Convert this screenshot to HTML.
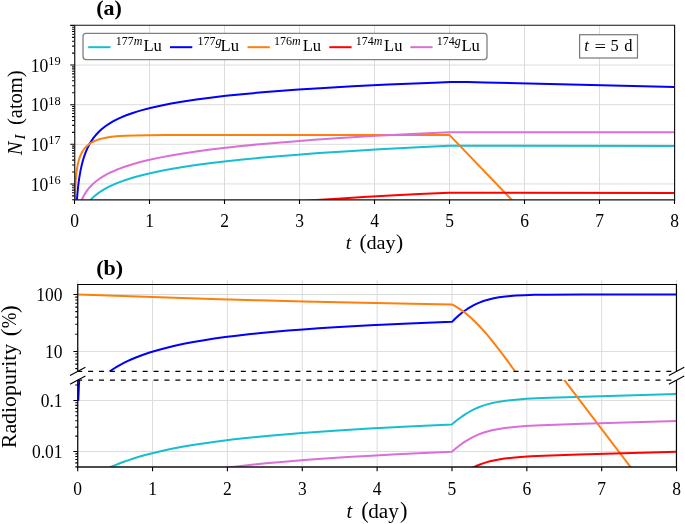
<!DOCTYPE html>
<html><head><meta charset="utf-8"><style>
html,body{margin:0;padding:0;background:#fff;}
body{width:685px;height:524px;overflow:hidden;}
svg{display:block;}
.l{will-change:transform;}
</style></head><body>
<div class="l"><svg width="685" height="524" viewBox="0 0 685 524">
<defs>
<clipPath id="ca"><rect x="74.50" y="25.50" width="600.00" height="174.20"/></clipPath>
<clipPath id="cu"><rect x="77.70" y="284.50" width="598.85" height="86.80"/></clipPath>
<clipPath id="cl"><rect x="77.70" y="380.10" width="598.85" height="86.80"/></clipPath>
</defs>
<rect width="685" height="524" fill="#fff"/>
<path d="M74.50 25.50V199.70M149.50 25.50V199.70M224.50 25.50V199.70M299.50 25.50V199.70M374.50 25.50V199.70M449.50 25.50V199.70M524.50 25.50V199.70M599.50 25.50V199.70M674.50 25.50V199.70M74.50 183.94H674.50M74.50 144.31H674.50M74.50 104.68H674.50M74.50 65.05H674.50M77.70 284.50V371.30M77.70 380.10V466.90M152.56 284.50V371.30M152.56 380.10V466.90M227.41 284.50V371.30M227.41 380.10V466.90M302.27 284.50V371.30M302.27 380.10V466.90M377.12 284.50V371.30M377.12 380.10V466.90M451.98 284.50V371.30M451.98 380.10V466.90M526.84 284.50V371.30M526.84 380.10V466.90M601.69 284.50V371.30M601.69 380.10V466.90M676.55 284.50V371.30M676.55 380.10V466.90M77.70 351.45H676.55M77.70 294.47H676.55M77.70 451.53H676.55M77.70 400.43H676.55" stroke="#dcdcdc" stroke-width="1" fill="none"/>
<path d="M74.50 421.72L75.10 256.40L75.70 244.47L76.30 237.49L76.90 232.54L77.50 228.70L78.10 225.56L79.30 220.61L80.51 216.77L81.71 213.63L82.91 210.98L84.71 207.64L86.51 204.84L88.31 202.44L90.12 200.33L92.52 197.87L94.92 195.72L97.92 193.36L100.93 191.28L104.53 189.08L108.13 187.13L111.74 185.38L114.74 184.05L118.34 182.58L125.55 179.96L133.36 177.52L141.77 175.22L151.38 172.93L161.59 170.79L172.40 168.78L184.41 166.79L197.62 164.84L211.44 163.02L226.45 161.24L242.67 159.50L260.09 157.81L278.70 156.18L297.92 154.64L318.94 153.10L348.37 151.16L379.61 149.32L413.24 147.53L449.27 145.81L674.50 146.02" fill="none" stroke="#17becf" stroke-width="2.00" stroke-linejoin="round" clip-path="url(#ca)"/>
<path d="M74.50 421.72L75.10 246.50L75.70 223.03L76.30 209.47L76.90 199.96L77.50 192.66L78.10 186.76L78.70 181.83L79.30 177.61L80.51 170.66L81.71 165.10L82.91 160.49L84.11 156.57L85.91 151.65L87.71 147.57L89.52 144.09L91.32 141.09L93.72 137.65L96.12 134.69L99.12 131.53L102.13 128.81L105.73 126.00L109.33 123.57L112.94 121.44L115.94 119.84L118.94 118.38L121.95 117.04L125.55 115.56L132.76 112.95L136.96 111.60L141.17 110.35L150.18 107.97L160.39 105.65L171.20 103.53L183.21 101.46L196.42 99.48L210.24 97.66L225.85 95.85L242.07 94.18L259.48 92.59L278.70 91.03L298.52 89.60L320.15 88.20L352.58 86.35L388.01 84.62L434.26 82.70L450.48 82.11L456.48 82.02L467.29 82.12L484.71 82.48L674.50 87.01" fill="none" stroke="#0000ff" stroke-width="2.00" stroke-linejoin="round" clip-path="url(#ca)"/>
<path d="M74.50 421.72L75.10 192.31L75.70 180.69L76.30 174.02L76.90 169.37L77.50 165.84L78.10 163.00L78.70 160.65L79.91 156.92L81.11 154.05L82.31 151.76L84.11 149.04L85.91 146.92L87.71 145.22L90.12 143.42L92.52 142.00L95.52 140.61L99.12 139.34L102.73 138.39L106.93 137.56L111.74 136.86L116.54 136.36L124.95 135.78L135.16 135.40L148.37 135.15L165.79 135.02L212.64 134.96L449.27 134.95L449.88 135.34L674.50 369.38" fill="none" stroke="#ff7f0e" stroke-width="2.00" stroke-linejoin="round" clip-path="url(#ca)"/>
<path d="M74.50 421.72L75.10 303.23L75.70 291.30L76.30 284.32L76.90 279.37L77.50 275.53L78.70 269.74L79.91 265.42L81.11 261.96L82.31 259.09L83.51 256.63L85.31 253.49L87.11 250.84L89.52 247.84L91.92 245.29L94.32 243.06L97.32 240.64L100.33 238.51L103.33 236.62L106.93 234.59L111.14 232.50L115.34 230.63L119.55 228.95L126.75 226.40L134.56 224.00L142.97 221.75L152.58 219.50L162.79 217.39L173.60 215.41L185.61 213.45L198.22 211.60L212.04 209.79L227.05 208.01L242.67 206.34L259.48 204.71L277.50 203.12L296.12 201.62L316.54 200.12L337.56 198.70L363.39 197.10L390.42 195.57L419.24 194.09L449.27 192.67L674.50 192.91" fill="none" stroke="#ff0000" stroke-width="2.00" stroke-linejoin="round" clip-path="url(#ca)"/>
<path d="M74.50 421.72L75.10 242.91L75.70 230.98L76.30 224.00L76.90 219.05L77.50 215.21L78.70 209.42L79.30 207.12L80.51 203.28L81.71 200.14L82.91 197.49L84.71 194.15L86.51 191.35L88.31 188.94L90.72 186.18L93.12 183.81L96.12 181.23L99.12 178.99L102.73 176.64L106.33 174.58L109.94 172.73L115.94 170.04L119.55 168.60L123.15 167.28L130.96 164.72L139.36 162.33L148.37 160.09L158.58 157.86L169.39 155.78L181.41 153.73L194.62 151.73L208.43 149.85L223.45 148.03L239.06 146.31L256.48 144.58L274.50 142.96L293.72 141.38L314.14 139.85L344.17 137.82L376.60 135.86L411.44 133.99L449.27 132.16L674.50 132.18" fill="none" stroke="#da70d6" stroke-width="2.00" stroke-linejoin="round" clip-path="url(#ca)"/>
<path d="M78.30 391.30L676.55 391.30" fill="none" stroke="#17becf" stroke-width="2.00" stroke-linejoin="round" clip-path="url(#cu)"/>
<path d="M78.30 484.20L84.89 480.16L90.89 476.74L97.48 473.23L104.08 470.00L110.67 467.03L117.26 464.31L123.86 461.81L131.05 459.32L138.24 457.06L146.04 454.83L154.43 452.67L162.82 450.71L171.81 448.80L180.81 447.08L191.00 445.30L201.19 443.69L211.98 442.14L222.77 440.72L234.16 439.34L246.15 438.01L258.73 436.72L272.52 435.43L301.89 432.98L334.26 430.68L369.63 428.51L408.60 426.45L451.76 424.45L452.36 424.11L455.95 421.06L459.55 418.24L462.55 416.08L465.54 414.08L468.54 412.25L471.54 410.59L474.54 409.09L478.13 407.50L481.73 406.11L485.33 404.91L488.92 403.87L492.52 402.99L496.72 402.12L500.91 401.39L505.71 400.71L510.50 400.15L518.30 399.44L526.69 398.87L536.88 398.34L549.47 397.81L583.64 396.69L676.55 393.92" fill="none" stroke="#17becf" stroke-width="2.00" stroke-linejoin="round" clip-path="url(#cl)"/>
<path d="M78.30 391.30L90.89 391.30L91.49 390.70L93.29 387.89L95.08 385.40L96.88 383.16L98.68 381.11L100.48 379.23L102.88 376.95L105.27 374.86L108.27 372.49L110.67 370.74L113.67 368.73L116.66 366.87L120.26 364.81L123.86 362.91L127.45 361.15L131.05 359.51L135.25 357.74L142.44 354.99L149.63 352.55L157.43 350.19L165.82 347.93L174.81 345.77L183.80 343.85L193.39 342.01L204.18 340.15L214.37 338.58L225.16 337.08L236.55 335.64L248.54 334.28L261.13 332.97L274.32 331.73L288.11 330.56L303.09 329.39L318.68 328.29L334.86 327.26L370.23 325.29L409.20 323.50L451.76 321.87L452.36 321.48L455.35 318.52L458.95 315.28L461.35 313.30L464.34 311.03L467.34 308.96L470.34 307.10L473.34 305.43L476.93 303.66L479.93 302.38L483.53 301.05L487.12 299.92L490.72 298.97L494.92 298.05L499.11 297.31L503.31 296.72L508.10 296.19L515.90 295.58L524.29 295.17L534.48 294.87L547.67 294.67L581.84 294.53L676.55 294.52" fill="none" stroke="#0000ff" stroke-width="2.00" stroke-linejoin="round" clip-path="url(#cu)"/>
<path d="M78.30 400.77L78.90 385.52L79.50 376.66L80.10 370.40L80.70 365.57L81.30 361.65L81.90 360.10L676.55 360.10" fill="none" stroke="#0000ff" stroke-width="2.00" stroke-linejoin="round" clip-path="url(#cl)"/>
<path d="M78.30 294.50L182.00 298.03L219.77 299.19L258.73 300.28L303.69 301.41L350.45 302.47L399.60 303.46L451.76 304.41L452.36 304.61L454.75 305.91L459.55 308.86L463.75 311.82L467.34 314.65L470.94 317.76L475.13 321.71L479.33 325.99L483.53 330.58L487.72 335.44L492.52 341.28L497.31 347.38L502.11 353.68L507.51 360.96L513.50 369.25L529.09 391.30L676.55 391.30" fill="none" stroke="#ff7f0e" stroke-width="2.00" stroke-linejoin="round" clip-path="url(#cu)"/>
<path d="M78.30 360.10L548.87 360.10L549.47 360.52L556.66 369.93L645.38 486.53L645.98 486.90L676.55 486.90" fill="none" stroke="#ff7f0e" stroke-width="2.00" stroke-linejoin="round" clip-path="url(#cl)"/>
<path d="M78.30 391.30L676.55 391.30" fill="none" stroke="#ff0000" stroke-width="2.00" stroke-linejoin="round" clip-path="url(#cu)"/>
<path d="M78.30 486.90L357.64 486.90L403.20 484.42L451.76 482.16L452.36 481.82L455.95 478.77L458.95 476.41L461.95 474.21L464.34 472.57L467.34 470.67L470.34 468.95L473.34 467.38L476.33 465.98L479.33 464.72L482.33 463.61L485.33 462.62L488.92 461.59L492.52 460.70L496.12 459.95L500.31 459.20L504.51 458.58L512.30 457.69L520.69 456.98L530.88 456.35L544.07 455.75L578.84 454.57L676.55 451.67" fill="none" stroke="#ff0000" stroke-width="2.00" stroke-linejoin="round" clip-path="url(#cl)"/>
<path d="M78.30 391.30L676.55 391.30" fill="none" stroke="#da70d6" stroke-width="2.00" stroke-linejoin="round" clip-path="url(#cu)"/>
<path d="M78.30 486.90L130.45 486.90L137.05 484.81L143.04 483.05L149.63 481.26L156.23 479.61L163.42 477.95L170.61 476.42L178.41 474.89L186.20 473.48L194.59 472.08L203.58 470.69L222.17 468.14L243.15 465.67L265.93 463.35L284.51 461.69L304.29 460.10L325.27 458.57L347.45 457.11L371.43 455.67L396.61 454.30L423.58 452.96L451.76 451.67L452.36 451.33L455.95 448.28L458.95 445.91L461.95 443.70L464.94 441.67L467.94 439.80L470.94 438.11L473.94 436.57L477.53 434.94L481.13 433.51L484.73 432.27L488.32 431.21L491.92 430.30L496.12 429.40L500.31 428.65L504.51 428.02L509.30 427.43L517.10 426.68L525.49 426.08L535.68 425.52L548.27 424.97L582.44 423.80L676.55 420.89" fill="none" stroke="#da70d6" stroke-width="2.00" stroke-linejoin="round" clip-path="url(#cl)"/>
<path d="M74.50 199.70v4.30M77.70 466.90v4.30M149.50 199.70v4.30M152.56 466.90v4.30M224.50 199.70v4.30M227.41 466.90v4.30M299.50 199.70v4.30M302.27 466.90v4.30M374.50 199.70v4.30M377.12 466.90v4.30M449.50 199.70v4.30M451.98 466.90v4.30M524.50 199.70v4.30M526.84 466.90v4.30M599.50 199.70v4.30M601.69 466.90v4.30M674.50 199.70v4.30M676.55 466.90v4.30M74.50 183.94h-4.30M74.50 144.31h-4.30M74.50 104.68h-4.30M74.50 65.05h-4.30M74.50 25.42h-4.30M74.50 199.71h-2.40M74.50 195.87h-2.40M74.50 192.73h-2.40M74.50 190.08h-2.40M74.50 187.78h-2.40M74.50 185.75h-2.40M74.50 172.01h-2.40M74.50 165.03h-2.40M74.50 160.08h-2.40M74.50 156.24h-2.40M74.50 153.10h-2.40M74.50 150.45h-2.40M74.50 148.15h-2.40M74.50 146.12h-2.40M74.50 132.38h-2.40M74.50 125.40h-2.40M74.50 120.45h-2.40M74.50 116.61h-2.40M74.50 113.47h-2.40M74.50 110.82h-2.40M74.50 108.52h-2.40M74.50 106.49h-2.40M74.50 92.75h-2.40M74.50 85.77h-2.40M74.50 80.82h-2.40M74.50 76.98h-2.40M74.50 73.84h-2.40M74.50 71.19h-2.40M74.50 68.89h-2.40M74.50 66.86h-2.40M74.50 53.12h-2.40M74.50 46.14h-2.40M74.50 41.19h-2.40M74.50 37.35h-2.40M74.50 34.21h-2.40M74.50 31.56h-2.40M74.50 29.26h-2.40M74.50 27.23h-2.40M77.70 351.45h-4.30M77.70 294.47h-4.30M77.70 368.60h-2.40M77.70 364.09h-2.40M77.70 360.28h-2.40M77.70 356.97h-2.40M77.70 354.06h-2.40M77.70 334.30h-2.40M77.70 324.26h-2.40M77.70 317.14h-2.40M77.70 311.62h-2.40M77.70 307.11h-2.40M77.70 303.30h-2.40M77.70 299.99h-2.40M77.70 297.08h-2.40M77.70 451.53h-4.30M77.70 400.43h-4.30M77.70 466.91h-2.40M77.70 462.87h-2.40M77.70 459.45h-2.40M77.70 456.48h-2.40M77.70 453.87h-2.40M77.70 436.15h-2.40M77.70 427.15h-2.40M77.70 420.76h-2.40M77.70 415.81h-2.40M77.70 411.77h-2.40M77.70 408.35h-2.40M77.70 405.38h-2.40M77.70 402.77h-2.40M77.70 385.05h-2.40" stroke="#000" stroke-width="1.1" fill="none"/>
<path d="M74.75 25.20H674.60V199.90H74.75Z" fill="none" stroke="#111" stroke-width="1.15" stroke-linejoin="miter"/>
<path d="M77.75 371.30V284.50H676.45V371.30" stroke="#000" stroke-width="1.20" fill="none" stroke-linejoin="miter"/>
<path d="M77.75 380.10V467.60M676.45 380.10V467.60" stroke="#000" stroke-width="1.20" fill="none"/>
<path d="M77.15 467.00H677.05" stroke="#111" stroke-width="1.35" fill="none"/>
<path d="M77.70 280.2V284M152.56 280.2V284M227.41 280.2V284M302.27 280.2V284M377.12 280.2V284M451.98 280.2V284M526.84 280.2V284M601.69 280.2V284M676.55 280.2V284" stroke="#dcdcdc" stroke-width="1" fill="none"/>
<path d="M77.70 371.30H676.55M77.70 380.10H676.55" stroke="#000" stroke-width="1.2" stroke-dasharray="5.0 5.91" stroke-dashoffset="-10.4" fill="none"/>
<path d="M70.00 375.40L85.40 367.20M70.00 384.20L85.40 376.00M668.85 375.40L684.25 367.20M668.85 384.20L684.25 376.00" stroke="#000" stroke-width="1.1" fill="none"/>
<g font-family='"Liberation Serif", serif' fill="#000">
<text transform="translate(74.60 226.50) scale(1 1.090)" font-size="17.50" text-anchor="middle" >0</text>
<text transform="translate(77.70 495.10) scale(1 1.090)" font-size="17.50" text-anchor="middle" >0</text>
<text transform="translate(149.60 226.50) scale(1 1.090)" font-size="17.50" text-anchor="middle" >1</text>
<text transform="translate(152.56 495.10) scale(1 1.090)" font-size="17.50" text-anchor="middle" >1</text>
<text transform="translate(224.60 226.50) scale(1 1.090)" font-size="17.50" text-anchor="middle" >2</text>
<text transform="translate(227.41 495.10) scale(1 1.090)" font-size="17.50" text-anchor="middle" >2</text>
<text transform="translate(299.60 226.50) scale(1 1.090)" font-size="17.50" text-anchor="middle" >3</text>
<text transform="translate(302.27 495.10) scale(1 1.090)" font-size="17.50" text-anchor="middle" >3</text>
<text transform="translate(374.60 226.50) scale(1 1.090)" font-size="17.50" text-anchor="middle" >4</text>
<text transform="translate(377.12 495.10) scale(1 1.090)" font-size="17.50" text-anchor="middle" >4</text>
<text transform="translate(449.60 226.50) scale(1 1.090)" font-size="17.50" text-anchor="middle" >5</text>
<text transform="translate(451.98 495.10) scale(1 1.090)" font-size="17.50" text-anchor="middle" >5</text>
<text transform="translate(524.60 226.50) scale(1 1.090)" font-size="17.50" text-anchor="middle" >6</text>
<text transform="translate(526.84 495.10) scale(1 1.090)" font-size="17.50" text-anchor="middle" >6</text>
<text transform="translate(599.60 226.50) scale(1 1.090)" font-size="17.50" text-anchor="middle" >7</text>
<text transform="translate(601.69 495.10) scale(1 1.090)" font-size="17.50" text-anchor="middle" >7</text>
<text transform="translate(674.60 226.50) scale(1 1.090)" font-size="17.50" text-anchor="middle" >8</text>
<text transform="translate(676.55 495.10) scale(1 1.090)" font-size="17.50" text-anchor="middle" >8</text>
<text transform="translate(30.8 71.65) scale(1 1.090)" font-size="17.50" textLength="17.6" lengthAdjust="spacingAndGlyphs">10</text>
<text transform="translate(48.2 64.95) scale(1 1.090)" font-size="12.4">19</text>
<text transform="translate(30.8 111.28) scale(1 1.090)" font-size="17.50" textLength="17.6" lengthAdjust="spacingAndGlyphs">10</text>
<text transform="translate(48.2 104.58) scale(1 1.090)" font-size="12.4">18</text>
<text transform="translate(30.8 150.91) scale(1 1.090)" font-size="17.50" textLength="17.6" lengthAdjust="spacingAndGlyphs">10</text>
<text transform="translate(48.2 144.21) scale(1 1.090)" font-size="12.4">17</text>
<text transform="translate(30.8 190.54) scale(1 1.090)" font-size="17.50" textLength="17.6" lengthAdjust="spacingAndGlyphs">10</text>
<text transform="translate(48.2 183.84) scale(1 1.090)" font-size="12.4">16</text>
<text transform="translate(62.60 301.07) scale(1 1.090)" font-size="17.50" text-anchor="end" >100</text>
<text transform="translate(62.60 358.05) scale(1 1.090)" font-size="17.50" text-anchor="end" >10</text>
<text transform="translate(62.60 407.03) scale(1 1.090)" font-size="17.50" text-anchor="end" >0.1</text>
<text transform="translate(62.60 458.13) scale(1 1.090)" font-size="17.50" text-anchor="end" >0.01</text>
<text x="345.80" y="248.60" font-size="19.50" font-style="italic">t</text>
<text x="359.60" y="249.40" font-size="21.50">(</text>
<text x="366.50" y="248.60" font-size="19.50" textLength="29.20" lengthAdjust="spacingAndGlyphs">day</text>
<text x="403.10" y="249.40" font-size="21.50" text-anchor="end">)</text>
<text x="346.59" y="517.60" font-size="20.48" font-style="italic">t</text>
<text x="361.15" y="518.44" font-size="22.57">(</text>
<text x="368.19" y="517.60" font-size="20.48" textLength="30.62" lengthAdjust="spacingAndGlyphs">day</text>
<text x="407.47" y="518.44" font-size="22.57" text-anchor="end">)</text>
<text transform="translate(22.0 155.2) rotate(-90)" font-size="20.5" font-style="italic">N<tspan font-size="15" dy="3.0" dx="2.0">I</tspan></text>
<text transform="translate(22.0 125.0) rotate(-90)" font-size="20.5" textLength="54.5" lengthAdjust="spacingAndGlyphs">(atom)</text>
<text transform="translate(16.2 448.2) rotate(-90)" font-size="20.5" textLength="104.5" lengthAdjust="spacingAndGlyphs">Radiopurity</text>
<text transform="translate(17.0 336.2) rotate(-90)" font-size="23">(</text>
<text transform="translate(16.4 328.3) rotate(-90)" font-size="20.5" textLength="15.6" lengthAdjust="spacingAndGlyphs">%</text>
<text transform="translate(17.0 313.0) rotate(-90)" font-size="23">)</text>
<text x="96.3" y="14.8" font-size="22" font-weight="bold">(a)</text>
<text x="96.2" y="275.3" font-size="22" font-weight="bold">(b)</text>
</g>
<rect x="83" y="33.4" width="404" height="26.2" rx="3" ry="3" fill="#fff" stroke="#808080" stroke-width="1.3"/>
<path d="M88.20 47.2h22.3" stroke="#17becf" stroke-width="2.00"/>
<text x="115.80" y="44.6" font-size="12" font-family='"Liberation Serif", serif'>177<tspan font-style="italic">m</tspan></text>
<text x="143.40" y="50.8" font-size="16.6" font-family='"Liberation Serif", serif'>Lu</text>
<path d="M170.00 47.2h22.3" stroke="#0000ff" stroke-width="2.00"/>
<text x="197.60" y="44.6" font-size="12" font-family='"Liberation Serif", serif'>177<tspan font-style="italic">g</tspan></text>
<text x="220.50" y="50.8" font-size="16.6" font-family='"Liberation Serif", serif'>Lu</text>
<path d="M247.50 47.2h22.3" stroke="#ff7f0e" stroke-width="2.00"/>
<text x="274.00" y="44.6" font-size="12" font-family='"Liberation Serif", serif'>176<tspan font-style="italic">m</tspan></text>
<text x="302.70" y="50.8" font-size="16.6" font-family='"Liberation Serif", serif'>Lu</text>
<path d="M329.30 47.2h22.3" stroke="#ff0000" stroke-width="2.00"/>
<text x="355.70" y="44.6" font-size="12" font-family='"Liberation Serif", serif'>174<tspan font-style="italic">m</tspan></text>
<text x="384.00" y="50.8" font-size="16.6" font-family='"Liberation Serif", serif'>Lu</text>
<path d="M410.30 47.2h22.3" stroke="#da70d6" stroke-width="2.00"/>
<text x="436.70" y="44.6" font-size="12" font-family='"Liberation Serif", serif'>174<tspan font-style="italic">g</tspan></text>
<text x="461.40" y="50.8" font-size="16.6" font-family='"Liberation Serif", serif'>Lu</text>
<rect x="579.6" y="34.7" width="57.9" height="23.3" fill="#fff" stroke="#777" stroke-width="1.2"/>
<g font-family='"Liberation Serif", serif' font-size="16.5"><text x="584.2" y="50.8" font-style="italic">t</text><text x="594.4" y="52.1" textLength="11.6" lengthAdjust="spacingAndGlyphs">=</text><text x="614.7" y="50.8" text-anchor="middle">5</text><text x="628.3" y="50.8" text-anchor="middle">d</text></g>
</svg></div>
</body></html>
